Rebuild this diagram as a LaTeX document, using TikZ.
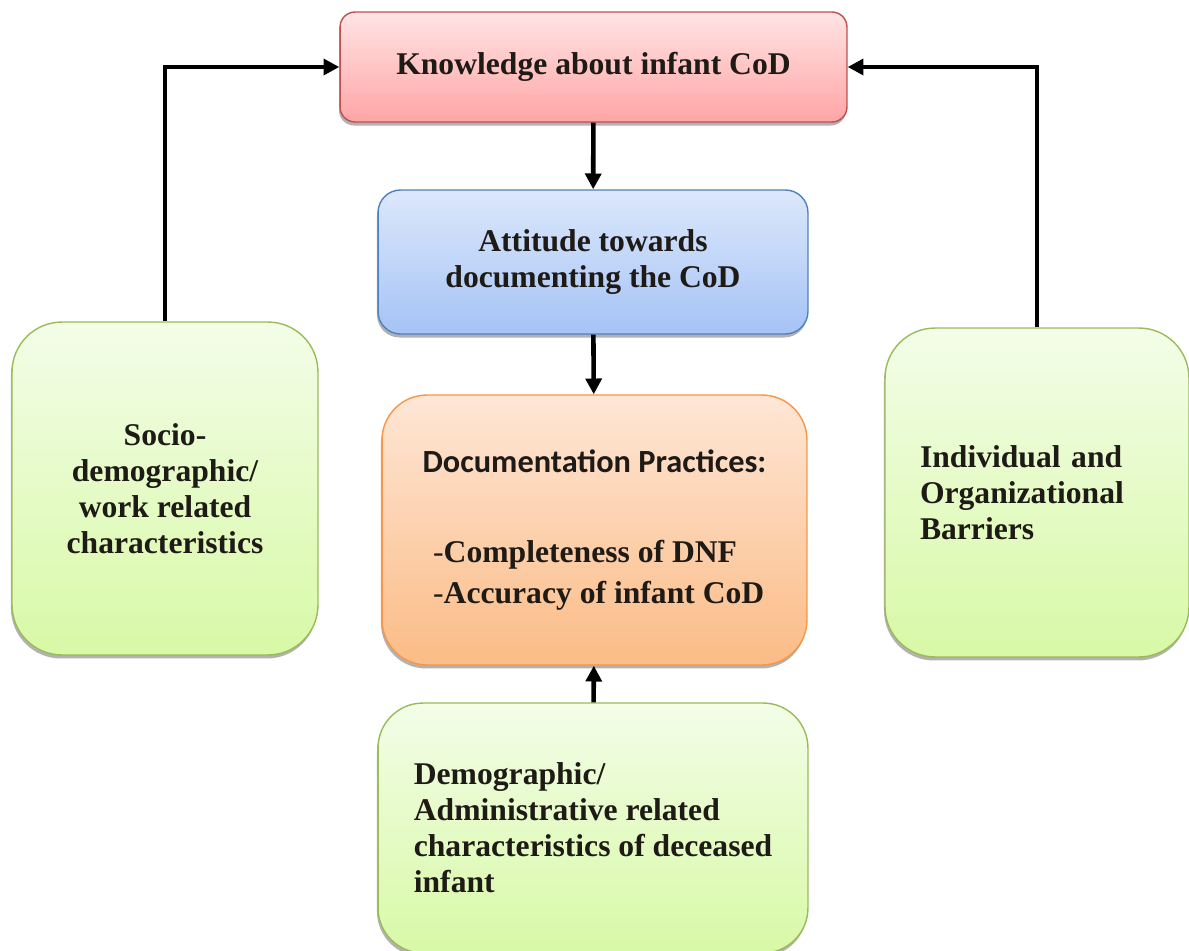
\documentclass[tikz,border=0pt]{standalone}
\usepackage{fontspec}
\setmainfont{Liberation Serif}
\setsansfont{Carlito}
\usetikzlibrary{arrows.meta,shadows}
\definecolor{knowtop}{HTML}{FFE4E4}
\definecolor{knowbot}{HTML}{FFA5A5}
\definecolor{knowline}{HTML}{C0504D}
\definecolor{atttop}{HTML}{DCE8FB}
\definecolor{attbot}{HTML}{A5C3F6}
\definecolor{attline}{HTML}{4F81BD}
\definecolor{doctop}{HTML}{FEE6D6}
\definecolor{docbot}{HTML}{FBBC86}
\definecolor{docline}{HTML}{F79646}
\definecolor{greentop}{HTML}{F3FDE8}
\definecolor{greenbot}{HTML}{D8F9A6}
\definecolor{greenline}{HTML}{9BBB59}
\definecolor{textdark}{HTML}{1E1A16}

\begin{document}
\begin{tikzpicture}[x=0.02cm,y=-0.02cm]
\tikzset{edge/.style = {-{Triangle[length=9pt,width=9pt]}, line width=2.6pt}}
\tikzset{box/.style = {shape=rectangle, draw, line width=0.8pt, text=textdark, font=\fontsize{18}{20.5}\selectfont\bfseries, drop shadow={shadow xshift=-0.6pt, shadow yshift=-2pt, fill=black, opacity=0.3}}}
\tikzset{greenbox/.style = {box, draw=greenline, top color=greentop, bottom color=greenbot, rounded corners=1cm}}
\useasboundingbox (0,0) rectangle (1189,950);
\node[box, draw=knowline, top color=knowtop, bottom color=knowbot, rounded corners=0.3cm, minimum width=10.14cm, minimum height=2.2cm](know) at (593.5,67) {Knowledge about infant CoD};
\node[box, draw=attline, top color=atttop, bottom color=attbot, rounded corners=0.45cm, minimum width=8.6cm, minimum height=2.88cm, align=center](att) at (593,262) {Attitude towards\\documenting the CoD};
\node[box, draw=docline, top color=doctop, bottom color=docbot, rounded corners=0.9cm, minimum width=8.5cm, minimum height=5.4cm, align=left, font=\fontsize{18}{23.3}\selectfont\bfseries](doc) at (594.5,530) {{\sffamily\fontsize{18.4}{21}\selectfont Documentation Practices:}\\[28pt]\hspace*{6pt}{\mdseries-}Completeness of DNF\\\hspace*{6pt}{\mdseries-}Accuracy of infant CoD};
\node[greenbox, minimum width=6.12cm, minimum height=6.66cm, align=center](socio) at (165,488.5) {Socio-\\demographic/\\work related\\characteristics};
\node[greenbox, minimum width=6.08cm, minimum height=6.58cm, text width=4.68cm, inner xsep=0.7cm, align=left](barr) at (1037,492.5) {Individual and\\Organizational\\Barriers};
\node[greenbox, rounded corners=0.9cm, minimum width=8.6cm, minimum height=5cm, align=left](demo) at (593,828) {Demographic/\\Administrative related\\characteristics of deceased\\infant};
\draw[edge] (know) -- (att);
\draw[edge] (att) -- (doc);
\draw[edge] (demo) -- (doc);
\draw[edge] (socio.north) |- (know.west);
\draw[edge] (barr.north) |- (know.east);
\end{tikzpicture}
\end{document}
